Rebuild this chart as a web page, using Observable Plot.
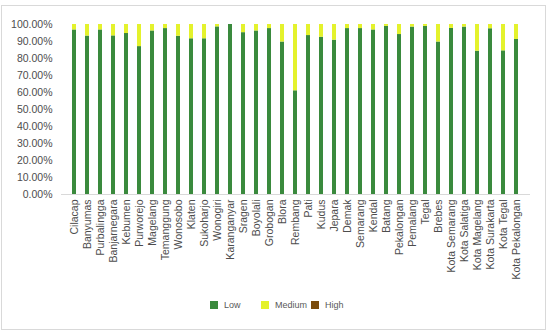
<!DOCTYPE html>
<html>
<head>
<meta charset="utf-8">
<script src="https://cdn.jsdelivr.net/npm/d3@7"></script>
<script src="https://cdn.jsdelivr.net/npm/@observablehq/plot@0.6"></script>
<style>
  body { margin: 0; background: #fff; font-family: "Liberation Sans", Arial, sans-serif; }
  #frame { position: absolute; left: 1px; top: 5px; width: 543px; height: 323px; border: 1px solid #d9d9d9; }
  #chart { position: absolute; left: 0; top: 0; }
  #legend { position: absolute; top: 300px; left: 0; width: 550px; font-size: 9px; color: #595959; }
  .item { position: absolute; display: flex; align-items: center; }
  .sw { width: 8px; height: 8px; margin-right: 6px; }
</style>
</head>
<body>
<div id="frame"></div>
<div id="chart"></div>
<div id="legend"></div>
<script>
const regions = ["Cilacap","Banyumas","Purbalingga","Banjarnegara","Kebumen","Purworejo","Magelang","Temanggung","Wonosobo","Klaten","Sukoharjo","Wonogiri","Karanganyar","Sragen","Boyolali","Grobogan","Blora","Rembang","Pati","Kudus","Jepara","Demak","Semarang","Kendal","Batang","Pekalongan","Pemalang","Tegal","Brebes","Kota Semarang","Kota Salatiga","Kota Magelang","Kota Surakarta","Kota Tegal","Kota Pekalongan"];
const low    = [96.8, 93.2, 96.8, 93.3, 94.7, 87.0, 96.2, 97.6, 93.1, 91.6, 91.6, 98.6, 100.0, 95.2, 96.2, 97.6, 89.7, 61.0, 93.5, 92.5, 90.8, 97.6, 97.6, 96.8, 98.9, 94.1, 98.5, 98.9, 89.7, 97.7, 98.5, 84.3, 97.5, 84.5, 91.2];
const medium = [3.2, 6.8, 3.2, 6.7, 5.3, 13.0, 3.8, 2.4, 6.9, 8.4, 8.4, 1.4, 0.0, 4.8, 3.8, 2.4, 10.3, 39.0, 6.5, 7.5, 9.2, 2.4, 2.4, 3.2, 1.1, 5.9, 1.5, 1.1, 10.3, 2.3, 1.5, 15.7, 2.5, 15.5, 8.8];
const high   = [0, 0, 0, 0, 0, 0, 0, 0, 0, 0, 0, 0, 0, 0, 0, 0, 0, 0, 0, 0, 0, 0, 0, 0, 0, 0, 0, 0, 0, 0, 0, 0, 0, 0, 0];
const levels = ["Low", "Medium", "High"];
const colors = ["#3a8a3d", "#e4f22c", "#7a4b0c"];
const yTicks = [0, 10, 20, 30, 40, 50, 60, 70, 80, 90, 100];

const data = [];
regions.forEach((r, i) => {
  data.push({region: r, level: "Low", value: low[i]});
  data.push({region: r, level: "Medium", value: medium[i]});
  data.push({region: r, level: "High", value: high[i]});
});

const plot = Plot.plot({
  width: 550,
  height: 300,
  marginTop: 24,
  marginBottom: 106,
  marginLeft: 61,
  marginRight: 20,
  style: {fontFamily: "'Liberation Sans', Arial, sans-serif", fontSize: "10.5px", color: "#4d4d4d", background: "transparent"},
  x: {domain: regions, padding: 0.66, label: null, tickRotate: -90, tickSize: 0, tickPadding: 5},
  y: {domain: [0, 100], ticks: yTicks, tickFormat: d => d.toFixed(2) + "%", label: null, tickSize: 0, tickPadding: 9},
  color: {domain: levels, range: colors},
  marks: [
    Plot.gridY(yTicks, {stroke: "#d9d9d9", strokeOpacity: 1, x1: 58, x2: 532}),
    Plot.barY(data, {x: "region", y: "value", fill: "level", order: levels}),
    Plot.ruleY([0], {stroke: "#d9d9d9"})
  ]
});
document.getElementById("chart").appendChild(plot);

const legend = document.getElementById("legend");
const lx = [210, 261, 311];
levels.forEach((l, i) => {
  const it = document.createElement("div");
  it.className = "item";
  it.style.left = lx[i] + "px";
  it.innerHTML = `<div class="sw" style="background:${colors[i]}"></div><span>${l}</span>`;
  legend.appendChild(it);
});
</script>
</body>
</html>
